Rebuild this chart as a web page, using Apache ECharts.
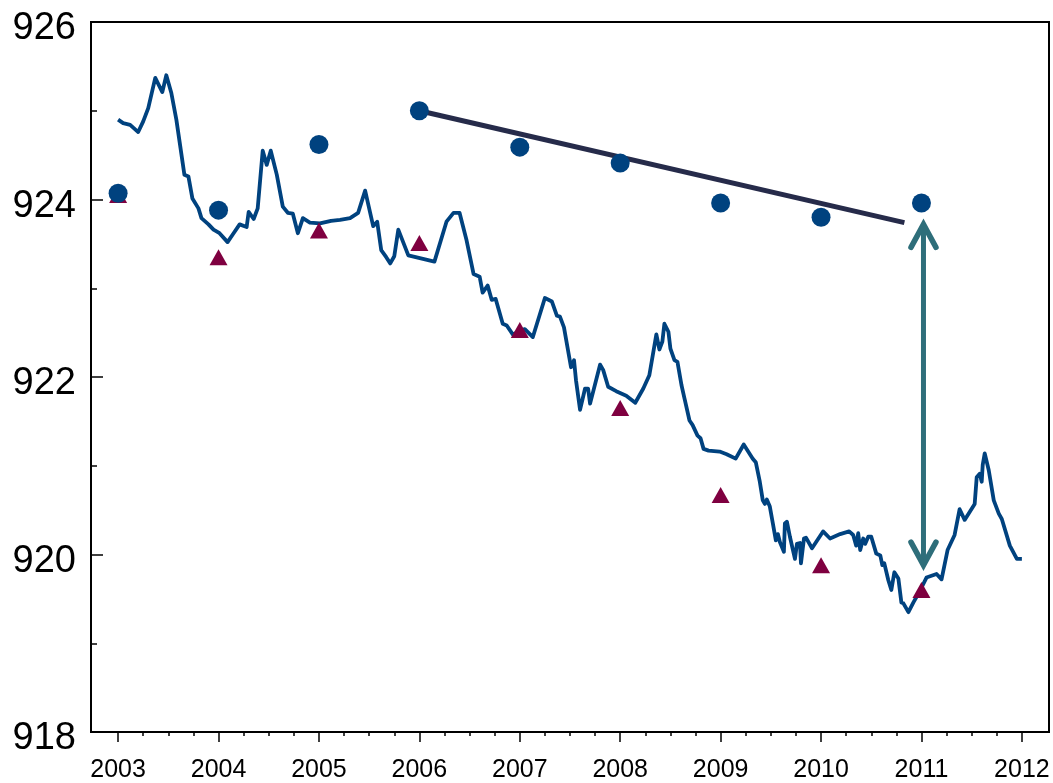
<!DOCTYPE html>
<html>
<head>
<meta charset="utf-8">
<style>
  html, body { margin: 0; padding: 0; background: #ffffff; }
  #chart { width: 1053px; height: 783px; }
</style>
<script src="https://cdn.jsdelivr.net/npm/echarts@6/dist/echarts.min.js"></script>
</head>
<body>
<div id="chart"></div>
<script>
// Monthly-ish level series (decimal year, level)
const lineYears = [
  2003.00, 2003.05, 2003.12, 2003.20, 2003.25, 2003.30, 2003.37, 2003.44, 2003.48, 2003.53,
  2003.58, 2003.62, 2003.66, 2003.70, 2003.74, 2003.80, 2003.83, 2003.90, 2003.95, 2004.01,
  2004.09, 2004.15, 2004.21, 2004.28, 2004.30, 2004.35, 2004.39, 2004.44, 2004.48, 2004.52,
  2004.58, 2004.64, 2004.69, 2004.74, 2004.79, 2004.84, 2004.91, 2005.01, 2005.12, 2005.21,
  2005.31, 2005.39, 2005.46, 2005.54, 2005.58, 2005.62, 2005.67, 2005.71, 2005.75, 2005.79,
  2005.89, 2006.15, 2006.27, 2006.34, 2006.40, 2006.47, 2006.54, 2006.60, 2006.63, 2006.68,
  2006.72, 2006.76, 2006.83, 2006.87, 2006.93, 2007.05, 2007.13, 2007.25, 2007.32, 2007.37,
  2007.40, 2007.44, 2007.51, 2007.54, 2007.56, 2007.60, 2007.65, 2007.68, 2007.70, 2007.80,
  2007.83, 2007.88, 2007.96, 2008.06, 2008.15, 2008.23, 2008.29, 2008.36, 2008.39, 2008.42,
  2008.44, 2008.48, 2008.50, 2008.54, 2008.57, 2008.61, 2008.64, 2008.69, 2008.72, 2008.77,
  2008.80, 2008.83, 2008.88, 2008.99, 2009.06, 2009.15, 2009.23, 2009.32, 2009.35, 2009.39,
  2009.42, 2009.44, 2009.46, 2009.49, 2009.52, 2009.55, 2009.57, 2009.59, 2009.63, 2009.64,
  2009.66, 2009.69, 2009.74, 2009.76, 2009.79, 2009.80, 2009.83, 2009.85, 2009.91, 2010.02,
  2010.09, 2010.19, 2010.28, 2010.32, 2010.35, 2010.37, 2010.39, 2010.42, 2010.44, 2010.47,
  2010.50, 2010.55, 2010.59, 2010.61, 2010.63, 2010.67, 2010.70, 2010.73, 2010.77, 2010.80,
  2010.82, 2010.84, 2010.87, 2010.92, 2010.98, 2011.05, 2011.15, 2011.20, 2011.26, 2011.33,
  2011.38, 2011.43, 2011.53, 2011.55, 2011.58, 2011.60, 2011.61, 2011.63, 2011.67, 2011.72,
  2011.77, 2011.80, 2011.88, 2011.95, 2012.00
];
const lineValues = [
  924.90, 924.86, 924.84, 924.76, 924.88, 925.03, 925.37, 925.21, 925.40, 925.20,
  924.90, 924.59, 924.28, 924.26, 924.01, 923.90, 923.79, 923.72, 923.66, 923.62,
  923.52, 923.62, 923.72, 923.69, 923.86, 923.78, 923.90, 924.55, 924.39, 924.55,
  924.28, 923.92, 923.85, 923.84, 923.62, 923.79, 923.74, 923.73, 923.76, 923.77,
  923.79, 923.85, 924.10, 923.70, 923.75, 923.43, 923.35, 923.28, 923.36, 923.66,
  923.37, 923.30, 923.75, 923.85, 923.85, 923.54, 923.16, 923.13, 922.95, 923.03,
  922.87, 922.88, 922.60, 922.58, 922.48, 922.54, 922.45, 922.89, 922.85, 922.69,
  922.68, 922.56, 922.11, 922.19, 921.96, 921.63, 921.87, 921.87, 921.70, 922.14,
  922.08, 921.89, 921.84, 921.79, 921.71, 921.87, 922.02, 922.48, 922.31, 922.40,
  922.60, 922.51, 922.32, 922.19, 922.17, 921.91, 921.76, 921.51, 921.46, 921.34,
  921.31, 921.19, 921.17, 921.16, 921.13, 921.08, 921.24, 921.08, 921.04, 920.82,
  920.61, 920.57, 920.62, 920.54, 920.35, 920.16, 920.23, 920.14, 920.03, 920.35,
  920.37, 920.20, 919.95, 920.12, 920.13, 919.90, 920.18, 920.19, 920.07, 920.26,
  920.18, 920.23, 920.26, 920.22, 920.10, 920.24, 920.05, 920.18, 920.12, 920.20,
  920.20, 920.01, 919.99, 919.88, 919.90, 919.71, 919.60, 919.80, 919.73, 919.46,
  919.45, 919.41, 919.35, 919.46, 919.58, 919.74, 919.78, 919.72, 920.05, 920.22,
  920.51, 920.39, 920.57, 920.87, 920.91, 920.82, 921.01, 921.14, 920.95, 920.61,
  920.46, 920.40, 920.10, 919.95, 919.95
];

// Annual points
const pointYears     = [2003, 2004, 2005, 2006, 2007, 2008, 2009, 2010, 2011];
const circleValues   = [924.07, 923.88, 924.62, 925.00, 924.59, 924.41, 923.96, 923.80, 923.96];
const triangleValues = [924.05, 923.35, 923.65, 923.51, 922.53, 921.65, 920.67, 919.88, 919.60];

// Trend segment and the gap arrow
const trendYears  = [2006, 2010.83];
const trendValues = [925.00, 923.74];
const gapArrow    = { year: 2011.02, from: 923.72, to: 919.88 };

// Axis ranges and ticks
const xMin = 2002.73, xMax = 2012.27;
const yearTickFirst = 2003, yearTickLast = 2012;
const yMin = 918, yMax = 926, yStep = 2;

const NAVY = '#00427f';
const MAROON = '#7f0040';
const TREND = '#262b4a';
const TEAL = '#2e6e7a';
const FONT = '"Liberation Sans", Arial, Helvetica, sans-serif';

const gridLeft = 91, gridTop = 22, gridWidth = 958, gridHeight = 710;
// second grid carries the year ticks; it spans exactly yearTickFirst..yearTickLast
const pxPerYear = gridWidth / (xMax - xMin);
const tickGridLeft = gridLeft + (yearTickFirst - xMin) * pxPerYear;
const tickGridWidth = (yearTickLast - yearTickFirst) * pxPerYear;

const zip = (xs, ys) => xs.map((x, i) => [x, ys[i]]);

const chart = echarts.init(document.getElementById('chart'), null, { renderer: 'canvas' });

chart.setOption({
  animation: false,
  backgroundColor: '#ffffff',
  textStyle: { fontFamily: FONT },
  grid: [
    { left: gridLeft, top: gridTop, width: gridWidth, height: gridHeight,
      show: true, borderColor: '#000', borderWidth: 2, backgroundColor: 'transparent' },
    { left: tickGridLeft, top: gridTop, width: tickGridWidth, height: gridHeight, show: false }
  ],
  xAxis: [
    { type: 'value', gridIndex: 0, min: xMin, max: xMax,
      axisLine: { show: true, lineStyle: { color: '#000', width: 2 } },
      axisTick: { show: false }, axisLabel: { show: false }, splitLine: { show: false } },
    { type: 'value', gridIndex: 1, min: yearTickFirst, max: yearTickLast, interval: 1,
      axisLine: { show: false },
      axisTick: { show: true, inside: false, length: 11, lineStyle: { color: '#000', width: 1.5 } },
      minorTick: { show: true, splitNumber: 4, length: 5, lineStyle: { color: '#000', width: 1.5 } },
      axisLabel: { show: true, margin: 27, fontSize: 25, color: '#000', fontFamily: FONT,
                   formatter: v => String(Math.round(v)) },
      splitLine: { show: false }, minorSplitLine: { show: false } }
  ],
  yAxis: [
    { type: 'value', gridIndex: 0, min: yMin, max: yMax, interval: yStep,
      axisLine: { show: true, lineStyle: { color: '#000', width: 2 } },
      axisTick: { show: true, inside: true, length: 12, lineStyle: { color: '#000', width: 1.5 } },
      minorTick: { show: true, splitNumber: 2, length: 6, lineStyle: { color: '#000', width: 1.5 } },
      axisLabel: { show: true, margin: 15, color: '#000', fontFamily: FONT,
                   formatter: v => '{n|' + v + '}',
                   rich: { n: { fontSize: 38, fontFamily: FONT, color: '#000', padding: [14, 0, 0, 0] } } },
      splitLine: { show: false } },
    { type: 'value', gridIndex: 1, min: yMin, max: yMax, show: false }
  ],
  series: [
    {
      type: 'line', xAxisIndex: 0, yAxisIndex: 0, z: 2,
      data: zip(lineYears, lineValues),
      showSymbol: false, symbol: 'none',
      lineStyle: { color: NAVY, width: 3.8, join: 'round' }
    },
    {
      type: 'scatter', xAxisIndex: 0, yAxisIndex: 0, z: 3,
      data: zip(pointYears, triangleValues),
      symbol: 'triangle', symbolSize: [18, 16],
      itemStyle: { color: MAROON, opacity: 1 }
    },
    {
      type: 'line', xAxisIndex: 0, yAxisIndex: 0, z: 4,
      data: zip(trendYears, trendValues),
      showSymbol: false, symbol: 'none',
      lineStyle: { color: TREND, width: 5 }
    },
    {
      type: 'scatter', xAxisIndex: 0, yAxisIndex: 0, z: 5,
      data: zip(pointYears, circleValues),
      symbol: 'circle', symbolSize: 19,
      itemStyle: { color: NAVY, opacity: 1 }
    },
    {
      type: 'custom', xAxisIndex: 0, yAxisIndex: 0, z: 6,
      data: [[gapArrow.year, gapArrow.from, gapArrow.to]],
      encode: { x: 0, y: [1, 2] },
      renderItem: function (params, api) {
        const top = api.coord([api.value(0), api.value(1)]);
        const bot = api.coord([api.value(0), api.value(2)]);
        const w = 12.5, h = 23;
        const style = { stroke: TEAL, lineWidth: 5.5, fill: null, lineCap: 'round', lineJoin: 'miter' };
        return {
          type: 'group',
          children: [
            { type: 'line', shape: { x1: top[0], y1: top[1] + 2, x2: bot[0], y2: bot[1] - 2 },
              style: { stroke: TEAL, lineWidth: 5, lineCap: 'butt' } },
            { type: 'polyline', shape: { points: [[top[0] - w, top[1] + h], [top[0], top[1]], [top[0] + w, top[1] + h]] },
              style: style },
            { type: 'polyline', shape: { points: [[bot[0] - w, bot[1] - h], [bot[0], bot[1]], [bot[0] + w, bot[1] - h]] },
              style: style }
          ]
        };
      }
    }
  ]
});
</script>
</body>
</html>
